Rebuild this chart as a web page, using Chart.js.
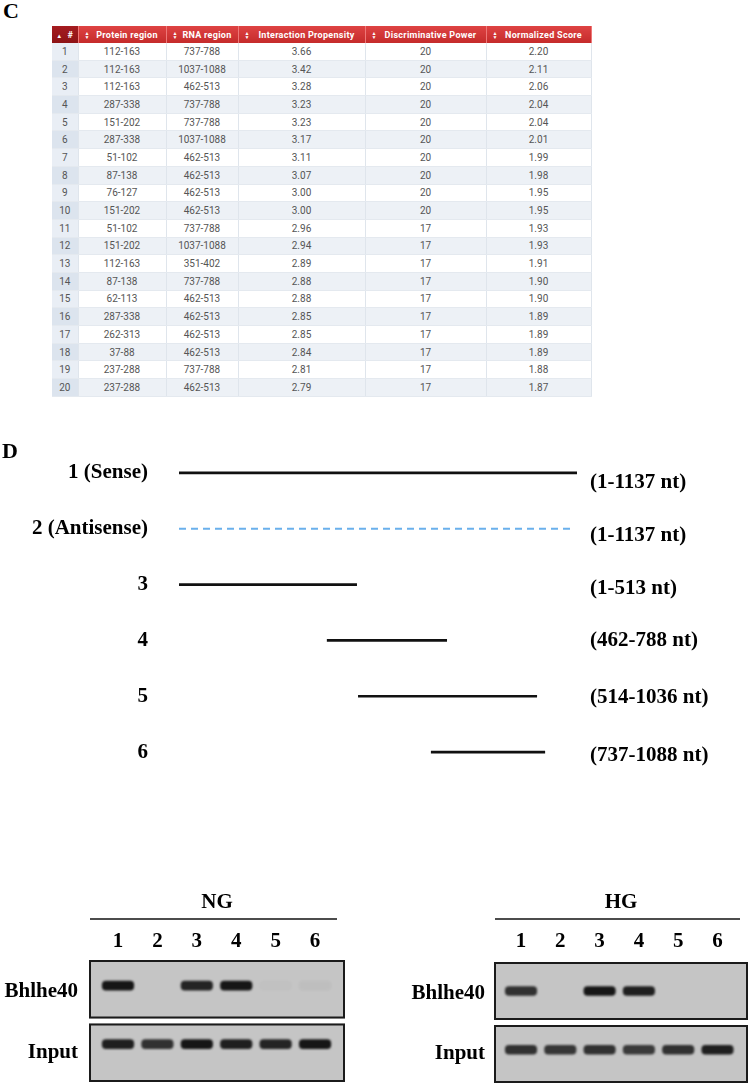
<!DOCTYPE html>
<html>
<head>
<meta charset="utf-8">
<script src="https://cdn.jsdelivr.net/npm/chart.js@4.4.1/dist/chart.umd.min.js"></script>
<style>
  body{margin:0;width:749px;height:1086px;position:relative;background:#fff;overflow:hidden}
  .letter{position:absolute;font:bold 22px/22px 'Liberation Serif',serif;color:#000;z-index:2}
  .box{position:absolute}
  #tbl{position:absolute;left:52px;top:26px;border-collapse:collapse;table-layout:fixed;font-family:Roboto,sans-serif;font-size:10px;color:#555}
  #tbl th{height:17px;padding:0 0 0 10px;background:linear-gradient(#de4343,#c52b2b);color:#fff;font-size:9px;font-weight:bold;letter-spacing:.3px;border-right:1px solid #e77;position:relative;text-align:center}
  #tbl th.first{padding:0;background:linear-gradient(#a51c20,#8e1316)}
  #tbl th .srt{position:absolute;left:6px;top:5px;font-size:5px;line-height:4px;width:5px;letter-spacing:0}
  #tbl td{height:16.7px;padding:0;text-align:center;border-right:1px solid #dfe5ec;border-bottom:1px solid #e4e9ef}
  #tbl tr.odd td{background:#fff}
  #tbl tr.even td{background:#edf1f6}
  #tbl tr.odd td.idx{background:#e9eef5}
  #tbl tr.even td.idx{background:#dce4ee}
</style>
</head>
<body>
<div class="letter" style="left:3px;top:0px">C</div>
<table id="tbl">
  <colgroup><col style="width:26px"><col style="width:88px"><col style="width:72px"><col style="width:127px"><col style="width:121px"><col style="width:105px"></colgroup>
  <thead><tr id="hdr"></tr></thead>
  <tbody id="tbody"></tbody>
</table>
<div class="letter" style="left:2px;top:440px">D</div>
<div class="box" style="left:0;top:440px"><canvas id="frag" width="749" height="345"></canvas></div>
<div class="box" style="left:0;top:880px"><canvas id="ng" width="360" height="206"></canvas></div>
<div class="box" style="left:380px;top:880px"><canvas id="hg" width="369" height="206"></canvas></div>
<script>
// table C: top 20 predicted interactions
const headers = ['#','Protein region','RNA region','Interaction Propensity','Discriminative Power','Normalized Score'];
const rankNo = [1,2,3,4,5,6,7,8,9,10,11,12,13,14,15,16,17,18,19,20];
const proteinRegion = ['112-163','112-163','112-163','287-338','151-202','287-338','51-102','87-138','76-127','151-202',
  '51-102','151-202','112-163','87-138','62-113','287-338','262-313','37-88','237-288','237-288'];
const rnaRegion = ['737-788','1037-1088','462-513','737-788','737-788','1037-1088','462-513','462-513','462-513','462-513',
  '737-788','1037-1088','351-402','737-788','462-513','462-513','462-513','462-513','737-788','462-513'];
const propensity = [3.66,3.42,3.28,3.23,3.23,3.17,3.11,3.07,3.00,3.00,2.96,2.94,2.89,2.88,2.88,2.85,2.85,2.84,2.81,2.79];
const discPower = [20,20,20,20,20,20,20,20,20,20,17,17,17,17,17,17,17,17,17,17];
const normScore = [2.20,2.11,2.06,2.04,2.04,2.01,1.99,1.98,1.95,1.95,1.93,1.93,1.91,1.90,1.90,1.89,1.89,1.89,1.88,1.87];

// panel D: RNA fragments (drawn extents, in nt)
const fragNames = ['1 (Sense)','2 (Antisense)','3','4','5','6'];
const fragRanges = ['(1-1137 nt)','(1-1137 nt)','(1-513 nt)','(462-788 nt)','(514-1036 nt)','(737-1088 nt)'];
const fragStart = [1,1,1,423,512,720];
const fragEnd = [1137,1123,509,766,1023,1046];

// pull-down blots, band darkness 0..1 per lane
const lanes = [1,2,3,4,5,6];
const ngBhlhe40 = [1.0,0,0.92,1.0,0.02,0.04];
const ngInput = [0.95,0.85,1.0,0.95,0.92,1.0];
const hgBhlhe40 = [0.85,0,1.0,0.95,0,0];
const hgInput = [0.85,0.82,0.85,0.8,0.85,0.95];

const serif = "'Liberation Serif', 'Times New Roman', serif";
const rangeShiftPx = [10,7,4,0,1,3];   // right labels sit a little below their line
const TRACK_PX = 55.8;

// build table
const hdr = document.getElementById('hdr');
headers.forEach((h,i)=>{
  const th = document.createElement('th');
  if(i===0){ th.className='first'; th.innerHTML = '<span style="font-size:6px">&#9650;</span>&nbsp;&nbsp;#'; }
  else th.innerHTML = '<span class="srt">&#9650;<br>&#9660;</span>' + h;
  hdr.appendChild(th);
});
const tbody = document.getElementById('tbody');
rankNo.forEach((n,i)=>{
  const tr = document.createElement('tr');
  tr.className = i%2 ? 'even' : 'odd';
  const cells = [n, proteinRegion[i], rnaRegion[i], propensity[i].toFixed(2), discPower[i], normScore[i].toFixed(2)];
  cells.forEach((c,j)=>{
    const td = document.createElement('td');
    if(j===0) td.className='idx';
    td.textContent = c;
    tr.appendChild(td);
  });
  tbody.appendChild(tr);
});

// axes keep exactly the size we give them, no extra label padding
const noPad = s => { s.paddingTop = 0; s.paddingBottom = 0; s.paddingLeft = 0; s.paddingRight = 0; };

// fragment map
const fragSets = fragNames.map((name,i)=>({
  label: name,
  data: [{x:fragStart[i], y:i+1},{x:fragEnd[i], y:i+1}],
  borderColor: i===1 ? '#6ab0ec' : '#111',
  borderWidth: i===1 ? 2 : 2.6,
  borderDash: i===1 ? [7,5] : [],
  pointRadius: 0,
  clip: false
}));

new Chart(document.getElementById('frag'),{
  type:'line',
  data:{datasets:fragSets},
  options:{
    responsive:false, animation:false,
    layout:{autoPadding:false,padding:{top:5,bottom:5,left:0,right:0}},
    plugins:{legend:{display:false},tooltip:{enabled:false}},
    scales:{
      x:{type:'linear',min:1,max:1137,display:false},
      y:{type:'linear',min:0.5,max:6.5,reverse:true,position:'left',
        afterBuildTicks:axis=>{ axis.ticks = fragNames.map((_,i)=>({value:i+1})); },
        afterFit:s=>{ s.width=179; noPad(s); },
        grid:{display:false,drawTicks:false},border:{display:false},
        ticks:{crossAlign:'near',padding:31,color:'#000',font:{family:serif,size:21,weight:'bold'},
          callback:(v,i)=>fragNames[i]}},
      y2:{type:'linear',min:0.5,max:6.5,reverse:true,position:'right',
        afterBuildTicks:axis=>{ axis.ticks = fragRanges.map((_,i)=>({value:i+1+rangeShiftPx[i]/TRACK_PX})); },
        afterFit:s=>{ s.width=172; noPad(s); },
        grid:{display:false,drawTicks:false},border:{display:false},
        ticks:{crossAlign:'near',padding:13,color:'#000',font:{family:serif,size:21,weight:'bold'},
          callback:(v,i)=>fragRanges[i]}}
    }
  }
});

// blot panels
const blotPlugin = {
  id:'blot',
  beforeDatasetsDraw(chart){
    const {ctx, chartArea:a, scales:{x,y}} = chart;
    ctx.save();
    [[0,1],[1,2]].forEach(([v0,v1],i)=>{
      const t = y.getPixelForValue(v0) + (i ? 2.5 : 0);
      const b = y.getPixelForValue(v1) - (i ? 0 : 2.5);
      ctx.fillStyle = '#c5c5c5';
      ctx.fillRect(a.left, t, a.right-a.left, b-t);
      ctx.lineWidth = 2;
      ctx.strokeStyle = '#1b1b1b';
      ctx.strokeRect(a.left+1, t+1, a.right-a.left-2, b-t-2);
    });
    // line under the condition title
    ctx.beginPath();
    ctx.moveTo(a.left+1, x.top+39);
    ctx.lineTo(a.right-8, x.top+39);
    ctx.lineWidth = 1.6;
    ctx.strokeStyle = '#111';
    ctx.stroke();
    ctx.restore();
    ctx.save();
    ctx.filter = 'blur(1.3px)';
  },
  afterDatasetsDraw(chart){ chart.ctx.restore(); }
};

function bandColor(v){ return 'rgba(22,22,22,' + v + ')'; }

function makeBlot(id, title, topRow, bottomRow, cfg){
  const mk = (vals, yPos) => ({
    data: lanes.map(l=>({y:yPos, x:[l-0.4, l+0.4]})),
    backgroundColor: vals.map(bandColor),
    barThickness: 9,
    borderRadius: 4,
    borderSkipped: false
  });
  new Chart(document.getElementById(id),{
    type:'bar',
    data:{datasets:[mk(topRow, cfg.topY), mk(bottomRow, cfg.botY)]},
    options:{
      indexAxis:'y', responsive:false, animation:false,
      layout:{autoPadding:false,padding:{top:0,left:0,right:cfg.padRight,bottom:cfg.padBottom}},
      plugins:{legend:{display:false},tooltip:{enabled:false}},
      datasets:{bar:{grouped:false}},
      scales:{
        x:{type:'linear',position:'top',min:cfg.xMin,max:cfg.xMax,offset:false,
          afterBuildTicks:axis=>{axis.ticks = lanes.map(v=>({value:v}));},
          afterFit:s=>{ s.height=cfg.topH; noPad(s); },
          grid:{display:false,drawTicks:false},border:{display:false},
          title:{display:true,text:title,color:'#000',padding:{top:10.4,bottom:0},font:{family:serif,size:21,weight:'bold'}},
          ticks:{padding:cfg.tickPad,color:'#000',font:{family:serif,size:21,weight:'bold'},callback:v=>String(v)}},
        y:{type:'linear',min:0,max:2,reverse:true,offset:false,
          afterBuildTicks:axis=>{axis.ticks = [{value:0.52},{value:1.52}];},
          afterFit:s=>{ s.width=cfg.leftW; noPad(s); },
          grid:{display:false,drawTicks:false,offset:false},border:{display:false},
          ticks:{crossAlign:'near',padding:cfg.labelPad,color:'#000',font:{family:serif,size:21,weight:'bold'},
            callback:v=>v<1?'Bhlhe40':'Input'}}
      }
    },
    plugins:[blotPlugin]
  });
}

makeBlot('ng','NG',ngBhlhe40,ngInput,{xMin:0.264,xMax:6.76,leftW:89,topH:80,padRight:15,padBottom:4,tickPad:5.4,labelPad:11,topY:0.42,botY:1.38});
makeBlot('hg','HG',hgBhlhe40,hgInput,{xMin:0.313,xMax:6.776,leftW:114,topH:82,padRight:1,padBottom:3,tickPad:7.4,labelPad:9,topY:0.48,botY:1.45});
</script>
</body>
</html>
